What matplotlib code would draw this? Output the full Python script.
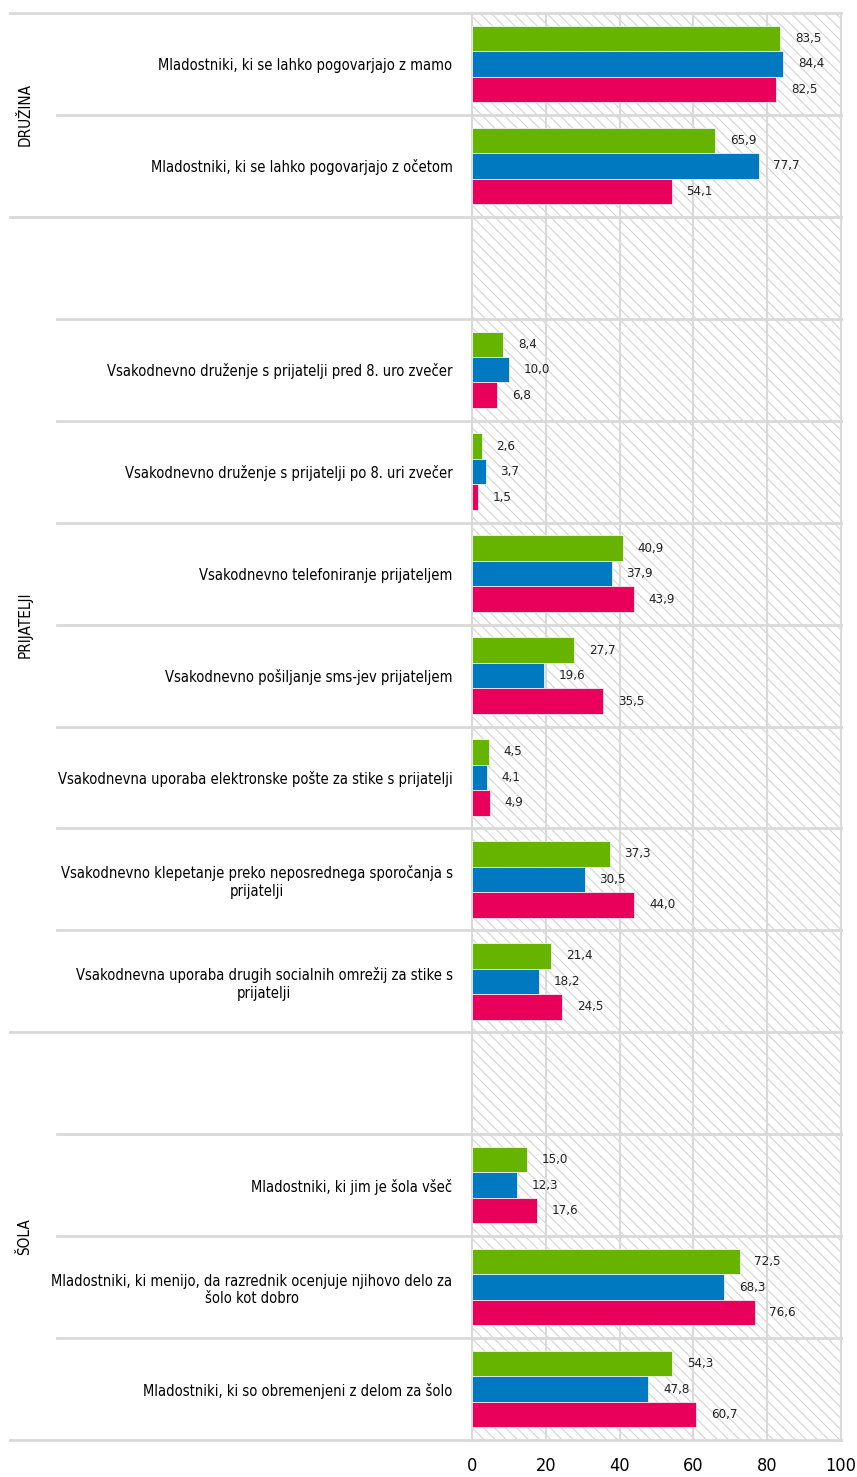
import matplotlib
matplotlib.use("Agg")
import matplotlib.pyplot as plt
import matplotlib.transforms as mtransforms
from matplotlib.patches import Rectangle
import numpy as np

plt.rcParams['font.family'] = ['DejaVu Sans']
plt.rcParams['font.stretch'] = 'condensed'
plt.rcParams['hatch.linewidth'] = 0.8

labels = [
    "Mladostniki, ki se lahko pogovarjajo z mamo",
    "Mladostniki, ki se lahko pogovarjajo z očetom",
    "",
    "Vsakodnevno druženje s prijatelji pred 8. uro zvečer",
    "Vsakodnevno druženje s prijatelji po 8. uri zvečer",
    "Vsakodnevno telefoniranje prijateljem",
    "Vsakodnevno pošiljanje sms-jev prijateljem",
    "Vsakodnevna uporaba elektronske pošte za stike s prijatelji",
    "Vsakodnevno klepetanje preko neposrednega sporočanja s\nprijatelji",
    "Vsakodnevna uporaba drugih socialnih omrežij za stike s\nprijatelji",
    "",
    "Mladostniki, ki jim je šola všeč",
    "Mladostniki, ki menijo, da razrednik ocenjuje njihovo delo za\nšolo kot dobro",
    "Mladostniki, ki so obremenjeni z delom za šolo",
]
green = [83.5, 65.9, None, 8.4, 2.6, 40.9, 27.7, 4.5, 37.3, 21.4, None, 15.0, 72.5, 54.3]
blue = [84.4, 77.7, None, 10.0, 3.7, 37.9, 19.6, 4.1, 30.5, 18.2, None, 12.3, 68.3, 47.8]
pink = [82.5, 54.1, None, 6.8, 1.5, 43.9, 35.5, 4.9, 44.0, 24.5, None, 17.6, 76.6, 60.7]
groups = [("DRUŽINA", 0, 1), ("PRIJATELJI", 2, 9), ("ŠOLA", 10, 13)]

colors = ["#66b400", "#0079c1", "#e9005b"]
grid_c = "#d9d9d9"

fig = plt.figure(figsize=(8.57, 14.77), dpi=100)
ax = fig.add_axes([472 / 857, 1 - 1440 / 1477, 369 / 857, 1427 / 1477])

n = len(labels)
y = np.arange(n)
h = 0.25

# hatched background
ax.add_patch(Rectangle((0, 0), 1, 1, transform=ax.transAxes, facecolor="white",
                       edgecolor="#d4d4d4", hatch="\\\\\\", linewidth=0, zorder=0))

for k, (vals, c) in enumerate(zip([green, blue, pink], colors)):
    off = (k - 1) * h
    for i, v in enumerate(vals):
        if v is None:
            continue
        ax.barh(y[i] + off, v, height=h, color=c, edgecolor="white", linewidth=0.5, zorder=3)
        ax.text(v + 4, y[i] + off, f"{v:.1f}".replace(".", ","), va="center", ha="left",
                fontsize=9.5, color="#222222", zorder=4)

ax.set_xlim(0, 100)
ax.set_ylim(n - 0.5, -0.5)
ax.set_xticks([0, 20, 40, 60, 80, 100])
ax.tick_params(axis="x", length=0, labelsize=13, pad=12)
ax.set_yticks(y)
ax.set_yticklabels(labels, fontsize=10.5)
ax.tick_params(axis="y", length=0, pad=14)
for t in ax.get_yticklabels():
    t.set_multialignment("center")

for x in [20, 40, 60, 80]:
    ax.axvline(x, color=grid_c, lw=1.5, zorder=1)
for s in ax.spines.values():
    s.set_color(grid_c)
    s.set_linewidth(1.5)
ax.spines["top"].set_visible(False)
ax.spines["bottom"].set_visible(False)

# row separators extending into label area
trans = mtransforms.blended_transform_factory(fig.transFigure, ax.transData)
group_edges = {-0.5, 1.5, 9.5, 13.5}
for b in np.arange(-0.5, n, 1.0):
    x0 = 10 / 857 if b in group_edges else 57 / 857
    ax.plot([x0, 841 / 857], [b, b], transform=trans, color=grid_c, lw=2,
            clip_on=False, zorder=2)

for name, a, b in groups:
    fig.text(25 / 857, (a + b) / 2, name, rotation=90, va="center", ha="center",
             fontsize=11, transform=trans)

fig.savefig("out.png", dpi=100)
